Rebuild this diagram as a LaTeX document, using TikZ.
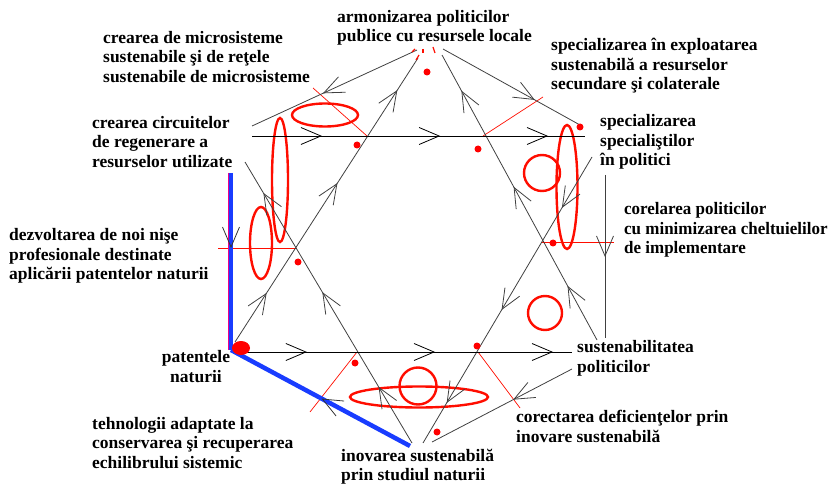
\documentclass[tikz,border=0pt]{standalone}
\usepackage{fontspec}
\setmainfont{Liberation Serif}
\usetikzlibrary{arrows.meta,decorations.markings}
\tikzset{
  barb/.tip={Straight Barb[length=20pt,width=17pt,line width=0.8pt]},
  barbk/.tip={Straight Barb[length=20pt,width=17pt,line width=0.8pt,color=black!80]},
  lbl/.style={font=\fontsize{17.5}{19.5}\selectfont\bfseries, align=left, anchor=west, inner sep=0pt},
  ln/.style={draw=black!75, line width=0.8pt},
  hl/.style={draw=black, line width=0.9pt},
  rl/.style={draw=red!90!orange, line width=0.7pt},
  rel/.style={draw=red!90!orange, line width=2.4pt},
  bl/.style={draw={rgb,255:red,25;green,60;blue,255}, line width=4.5pt},
  tipat/.style={postaction={decorate, decoration={markings, mark=at position #1 with {\arrow{barb}}}}},
  tipk/.style={postaction={decorate, decoration={markings, mark=at position #1 with {\arrow{barbk}}}}}
}
\begin{document}
\begin{tikzpicture}[x=1pt,y=-1pt]
\useasboundingbox (0,0) rectangle (832,486);

% ---------- labels ----------
\node[lbl] (armon) at (337,28) {armonizarea politicilor\\publice cu resursele locale};
\node[lbl] (micro) at (103,57) {crearea de microsisteme\\sustenabile şi de reţele\\sustenabile de microsisteme};
\node[lbl] (exploat) at (551,66) {specializarea în exploatarea\\sustenabilă a resurselor\\secundare şi colaterale};
\node[lbl] (circ) at (92,142) {crearea circuitelor\\de regenerare a\\resurselor utilizate};
\node[lbl] (spec) at (600,142) {specializarea\\specialiştilor\\în politici};
\node[lbl, xscale=0.97, transform shape] (corel) at (624,230) {corelarea politicilor\\cu minimizarea cheltuielilor\\de implementare};
\node[lbl] (nise) at (9,256) {dezvoltarea de noi nişe\\profesionale destinate\\aplicării patentelor naturii};
\node[lbl, anchor=center, align=center] (pat) at (196,366.5) {patentele\\naturii};
\node[lbl] (sust) at (577,358.5) {sustenabilitatea\\politicilor};
\node[lbl] (teh) at (92,443) {tehnologii adaptate la\\conservarea şi recuperarea\\echilibrului sistemic};
\node[lbl] (corect) at (516,426.5) {corectarea deficienţelor prin\\inovare sustenabilă};
\node[lbl] (inov) at (341,466.5) {inovarea sustenabilă\\prin studiul naturii};

% ---------- end points ----------
\coordinate (L1a) at (235,342); \coordinate (L1b) at (418,58);
\coordinate (L2a) at (597,340); \coordinate (L2b) at (442,55);
\coordinate (L3a) at (412,443); \coordinate (L3b) at (245,162);
\coordinate (L4a) at (592,157); \coordinate (L4b) at (423,443);
\coordinate (H1a) at (252,136); \coordinate (H1b) at (585,136);
\coordinate (H2a) at (233,352); \coordinate (H2b) at (572,352);
\coordinate (O1a) at (417,50);  \coordinate (O1b) at (252,126);
\coordinate (O2a) at (443,49);  \coordinate (O2b) at (580,125);
\coordinate (O3a) at (605,175); \coordinate (O3b) at (605,338);
\coordinate (O4a) at (572,369); \coordinate (O4b) at (432,442);
\coordinate (Bv) at (231,173);  \coordinate (Bc) at (231,350); \coordinate (Bd) at (410,446);

% ---------- red ellipses / circles ----------
\draw[rel] (325,115) ellipse [x radius=33pt, y radius=11.5pt];
\draw[rel] (280,180) ellipse [x radius=8pt, y radius=62pt];
\draw[rel] (261,243) ellipse [x radius=11pt, y radius=36pt];
\draw[rel] (567,187) ellipse [x radius=10.5pt, y radius=62pt];
\draw[rel] (542,173) circle [radius=18pt];
\draw[rel] (545,313) circle [radius=17pt];
\draw[rel] (419,397) ellipse [x radius=69pt, y radius=10.5pt];
\draw[rel] (418,386) circle [radius=18.5pt];

% ---------- red thin lines ----------
\draw[rl] (313,88) -- (367,136);
\draw[rl] (543,97) -- (483,136);
\draw[rl] (542,242) -- (614,242);
\draw[rl] (478,352) -- (520,408);
\draw[rl] (310,412) -- (357,352);
\draw[rl] (218,248) -- (297,248);

% ---------- hexagram ----------
\draw[ln, tipat=0.173, tipat=0.56, tipat=0.887] (L1a) -- (L1b);
\draw[ln, tipat=0.19, tipat=0.538, tipat=0.875] (L2a) -- (L2b);
\draw[ln, tipat=0.2, tipat=0.537, tipat=0.89] (L3a) -- (L3b);
\draw[ln, tipat=0.178, tipat=0.535, tipat=0.86] (L4a) -- (L4b);
\draw[hl, tipat=0.21, tipat=0.565, tipat=0.889] (H1a) -- (H1b);
\draw[hl, tipat=0.218, tipat=0.596, tipat=0.944] (H2a) -- (H2b);

% ---------- outer connectors ----------
\draw[ln, tipat=0.57] (O1a) -- (O1b);
\draw[ln, tipat=0.67] (O2a) -- (O2b);
\draw[ln, tipat=0.503] (O3a) -- (O3b);
\draw[ln, tipat=0.42] (O4a) -- (O4b);

% ---------- blue lines ----------
\draw[draw=magenta, line width=1.2pt] (228.3,173) -- (228.3,350);
\draw[bl, tipk=0.424] (Bv) -- (Bc);
\draw[bl, tipk=0.494] (Bd) -- (Bc);

% ---------- red dots ----------
\fill[red] (357,145) circle [radius=3.5pt];
\fill[red] (427,72) circle [radius=3.5pt];
\fill[red] (478,149) circle [radius=3.5pt];
\fill[red] (580,127) circle [radius=3.5pt];
\fill[red] (553,243) circle [radius=3.5pt];
\fill[red] (298,262) circle [radius=3.5pt];
\fill[red] (355,363) circle [radius=3.5pt];
\fill[red] (477,346) circle [radius=3.5pt];
\fill[red] (437,432) circle [radius=3.5pt];
\fill[red] (241,348) ellipse [x radius=9pt, y radius=7pt];
% small red specks near the top
\draw[rl, line width=1.2pt] (412,52) -- (415,49);
\draw[rl, line width=1.2pt] (416,60) -- (419,55);
\draw[rl, line width=1.2pt] (423,49) -- (423,53);
\draw[rl, line width=1.2pt] (433,47) -- (435,53);
\end{tikzpicture}
\end{document}
